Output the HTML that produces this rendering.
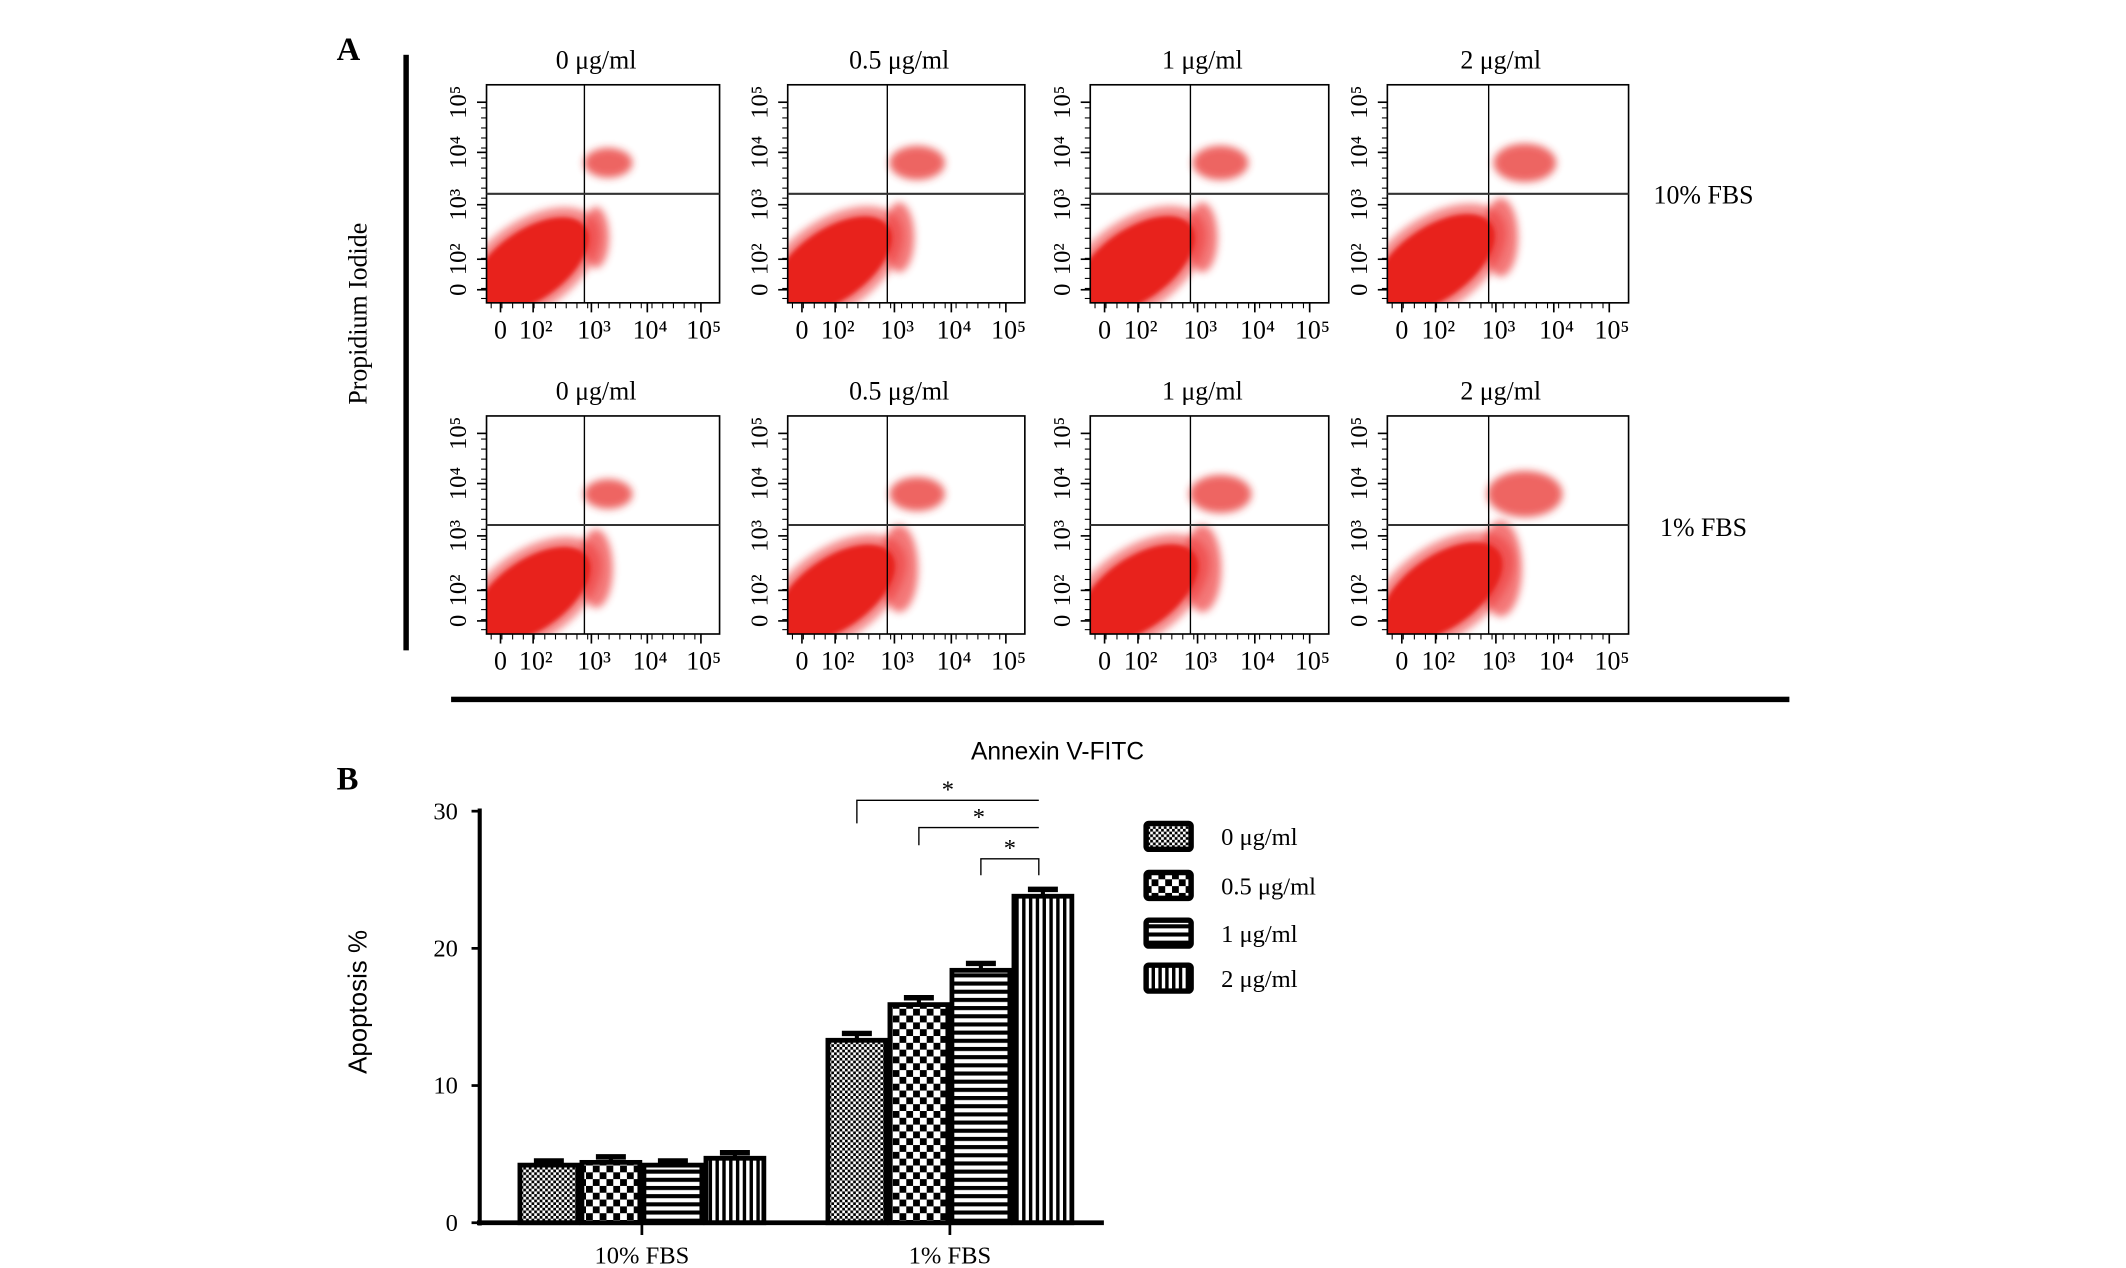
<!DOCTYPE html>
<html><head><meta charset="utf-8"><style>
html,body{margin:0;padding:0;background:#fff;}
svg{display:block;font-family:"Liberation Serif",serif;}
</style></head><body>
<svg id="fig" width="2126" height="1268" viewBox="0 0 1560 930" xmlns="http://www.w3.org/2000/svg">
<defs>
<pattern id="pat0" width="4" height="4" patternUnits="userSpaceOnUse"><rect width="4" height="4" fill="#fff"/><rect width="2" height="2" fill="#000"/><rect x="2" y="2" width="2" height="2" fill="#000"/></pattern>
<pattern id="pat1" width="10" height="10" patternUnits="userSpaceOnUse"><rect width="10" height="10" fill="#fff"/><rect width="5" height="5" fill="#000"/><rect x="5" y="5" width="5" height="5" fill="#000"/></pattern>
<pattern id="pat2" width="6" height="6" patternUnits="userSpaceOnUse"><rect width="6" height="6" fill="#fff"/><rect width="6" height="3" fill="#000"/></pattern>
<pattern id="pat3" width="5" height="5" patternUnits="userSpaceOnUse"><rect width="5" height="5" fill="#fff"/><rect width="2.5" height="5" fill="#000"/></pattern>
<filter id="blur" x="-50%" y="-50%" width="200%" height="200%"><feGaussianBlur stdDeviation="3"/></filter>
<filter id="blur2" x="-50%" y="-50%" width="200%" height="200%"><feGaussianBlur stdDeviation="1.5"/></filter>
</defs>
<text x="247" y="44" font-size="24" font-weight="bold">A</text>
<rect x="296" y="40" width="4" height="437" fill="#000"/>
<text transform="translate(269,230) rotate(-90)" text-anchor="middle" font-size="19">Propidium Iodide</text>
<rect x="331" y="511" width="982" height="4" fill="#000"/>
<text x="776" y="557" text-anchor="middle" font-size="18" font-family="Liberation Sans, sans-serif">Annexin V-FITC</text>
<text x="1250" y="149" text-anchor="middle" font-size="19">10% FBS</text>
<text x="1250" y="393" text-anchor="middle" font-size="19">1% FBS</text>
<g id="scatter"></g>
<text x="247" y="579" font-size="24" font-weight="bold">B</text>
<text transform="translate(269,735) rotate(-90)" text-anchor="middle" font-size="19" font-family="Liberation Sans, sans-serif">Apoptosis  %</text>
<g id="bars"></g>
</svg>
<script>
// ---------- Panel A data ----------
const doseLabels = ["0 μg/ml","0.5 μg/ml","1 μg/ml","2 μg/ml"];
const axisTickLabels = ["0","10²","10³","10⁴","10⁵"];
const axisTickDecades = [0,2,3,4,5];
// live population center (log decades)
const liveX = [[1.8,1.8,1.8,1.9],[1.9,2.0,2.0,2.1]];
const liveY = [[1.6,1.6,1.6,1.7],[1.7,1.8,1.8,1.9]];
// early apoptotic tail (right of gate) relative size
const earlySize = [[0.7,0.8,0.8,0.9],[0.9,1.0,1.0,1.1]];
// late apoptotic cluster center
const lateX = [[3.3,3.4,3.4,3.5],[3.3,3.4,3.4,3.5]];
const lateY = [[3.8,3.8,3.8,3.8],[3.8,3.8,3.8,3.8]];
const lateSize = [[0.8,0.9,0.9,1.0],[0.8,0.9,1.0,1.2]];
// ---------- Panel B data ----------
const groups = ["10% FBS","1% FBS"];
const seriesNames = ["0 μg/ml","0.5 μg/ml","1 μg/ml","2 μg/ml"];
const values10 = [4.2,4.4,4.2,4.7];
const values1 = [13.3,15.9,18.4,23.8];
const err10 = [0.3,0.4,0.3,0.4];
const err1 = [0.5,0.5,0.5,0.5];
const yTicks = [0,10,20,30];

const NS="http://www.w3.org/2000/svg";
function mk(tag,attrs,parent){const e=document.createElementNS(NS,tag);for(const k in attrs)e.setAttribute(k,attrs[k]);parent.appendChild(e);return e;}

const sc=document.getElementById('scatter');
const colX=[357,578,800,1018], colW=[171,174,175,177];
const rowY=[62,305], boxH=160;
const tickFrac=[0.06,0.2,0.45,0.69,0.92];
function decFrac(d){
  for(let i=0;i<axisTickDecades.length-1;i++){const a=axisTickDecades[i],b=axisTickDecades[i+1];
    if(d<=b){return tickFrac[i]+(d-a)/(b-a)*(tickFrac[i+1]-tickFrac[i]);}}
  return tickFrac[4];
}
for(let r=0;r<2;r++)for(let c=0;c<4;c++){
  const x0=colX[c],y0=rowY[r],w=colW[c];
  const sx=d=>x0+decFrac(d)*w, sy=d=>y0+boxH-decFrac(d)*boxH;
  const g=mk('g',{},sc);
  
  
  const t=mk('text',{x:x0+w*0.47,y:y0-12,'text-anchor':'middle','font-size':19},g);t.textContent=doseLabels[c];
  
  
  const clip='clip'+r+c;
  const cp=mk('clipPath',{id:clip},g);mk('rect',{x:x0,y:y0,width:w,height:boxH},cp);
  const cg=mk('g',{'clip-path':'url(#'+clip+')'},g);
  const cx=sx(liveX[r][c]), cy=sy(liveY[r][c]);
  const es=earlySize[r][c];
  const ex=x0+w*0.47, ey=sy(2.4);
  const e0=mk('ellipse',{cx:ex,cy:ey,rx:w*0.08*es,ry:boxH*0.2*es,fill:'#ef4040',opacity:0.7,filter:'url(#blur)'},cg);
  
  
  const e1=mk('ellipse',{cx:cx,cy:cy,rx:w*0.34,ry:w*0.19,fill:'#ee3b3b',opacity:0.6,transform:`rotate(-35 ${cx} ${cy})`,filter:'url(#blur)'},cg);
  
  
  const e2=mk('ellipse',{cx:cx,cy:cy,rx:w*0.29,ry:w*0.15,fill:'#e8201f',transform:`rotate(-35 ${cx} ${cy})`,filter:'url(#blur2)'},cg);
  
  
  const lx=sx(lateX[r][c]), ly=sy(lateY[r][c]), ls=lateSize[r][c];
  const e3=mk('ellipse',{cx:lx,cy:ly,rx:w*0.13*ls,ry:w*0.08*ls,fill:'#e8302f',opacity:0.75,filter:'url(#blur)'},cg);
  
  
  const b=mk('rect',{x:x0,y:y0,width:w,height:boxH,fill:'none',stroke:'#000','stroke-width':1.2},g);
  
  
  const gx=x0+w*0.42, gy=y0+boxH*0.5;
  const vl=mk('line',{x1:gx,y1:y0,x2:gx,y2:y0+boxH,stroke:'#000','stroke-width':1},g);
  
  
  const hl=mk('line',{x1:x0,y1:gy,x2:x0+w,y2:gy,stroke:'#333','stroke-width':1.5},g);
  
  
  axisTickDecades.forEach((d,i)=>{
    const tx=mk('text',{x:sx(d)+(i>0?2:0),y:y0+boxH+26,'text-anchor':'middle','font-size':19},g);tx.textContent=axisTickLabels[i];
    
    
    const ty=mk('text',{transform:`translate(${x0-15},${sy(d)}) rotate(-90)`,'text-anchor':'middle','font-size':18},g);ty.textContent=axisTickLabels[i];
    
    
    mk('line',{x1:sx(d),y1:y0+boxH,x2:sx(d),y2:y0+boxH+7,stroke:'#000','stroke-width':1.2},g);
    mk('line',{x1:x0,y1:sy(d),x2:x0-7,y2:sy(d),stroke:'#000','stroke-width':1.2},g);
  });
  // minor ticks
  for(let k=0;k<20;k++){
    const mx=x0+w*(0.02+k*0.046);
    mk('line',{x1:mx,y1:y0+boxH,x2:mx,y2:y0+boxH+4,stroke:'#000','stroke-width':0.8},g);
    const my=y0+boxH-boxH*(0.02+k*0.046);
    mk('line',{x1:x0,y1:my,x2:x0-4,y2:my,stroke:'#000','stroke-width':0.8},g);
  }
}

// bar chart
const bg=document.getElementById('bars');
const X0=352,XEND=810,Y0=897,Y30=595;
const yS=v=>Y0-(v/30)*(Y0-Y30);
const groupStart=[380,606], bw=45.5;
yTicks.forEach(v=>{
  const t=mk('text',{x:336,y:yS(v)+6,'text-anchor':'end','font-size':18},bg);t.textContent=v;
  
  
  mk('line',{x1:X0-6,y1:yS(v),x2:X0,y2:yS(v),stroke:'#000','stroke-width':2},bg);
});
const ya=mk('line',{x1:X0,y1:Y30-2,x2:X0,y2:Y0+2,stroke:'#000','stroke-width':3},bg);


[values10,values1].forEach((vals,gi)=>{
  const errs=gi===0?err10:err1;
  vals.forEach((v,i)=>{
    const x=groupStart[gi]+i*bw;
    const top=yS(v), et=yS(v+errs[i]);
    mk('line',{x1:x+bw/2,y1:top,x2:x+bw/2,y2:et,stroke:'#000','stroke-width':3},bg);
    mk('line',{x1:x+bw/2-11,y1:et,x2:x+bw/2+11,y2:et,stroke:'#000','stroke-width':4},bg);
    const r=mk('rect',{x:x+1.5,y:top,width:bw-3,height:Y0-top,fill:`url(#pat${i})`,stroke:'#000','stroke-width':3.5},bg);
    
    
  });
  const cx=groupStart[gi]+2*bw;
  mk('line',{x1:cx,y1:Y0,x2:cx,y2:Y0+9,stroke:'#000','stroke-width':2},bg);
  const t=mk('text',{x:cx,y:Y0+30,'text-anchor':'middle','font-size':18},bg);t.textContent=groups[gi];
  
  
});
const xa=mk('line',{x1:X0-2,y1:Y0,x2:XEND,y2:Y0,stroke:'#000','stroke-width':3.5},bg);


const cmpFrom=[0,1,2];
const bracketY=[587,607,630], bracketDrop=[17,13,12];
cmpFrom.forEach((k,j)=>{
  const xa_=groupStart[1]+k*bw+bw/2, xb=groupStart[1]+3*bw+bw/2-3, y=bracketY[j];
  const p=mk('path',{d:`M${xa_},${y+bracketDrop[j]} V${y} H${xb}`+(j===2?` V${y+bracketDrop[j]}`:''),fill:'none',stroke:'#000','stroke-width':1},bg);
  
  
  const s=mk('text',{x:(xa_+xb)/2,y:y-2,'text-anchor':'middle','font-size':18},bg);s.textContent='*';
  
  
});
const legY=[604,640,675,708];
seriesNames.forEach((n,i)=>{
  const g=mk('g',{},bg);
  
  
  mk('rect',{x:841,y:legY[i],width:33,height:19,rx:2,fill:`url(#pat${i})`,stroke:'#000','stroke-width':4},g);
  const t=mk('text',{x:896,y:legY[i]+16,'font-size':18},g);t.textContent=n;
});
</script>
</body></html>
